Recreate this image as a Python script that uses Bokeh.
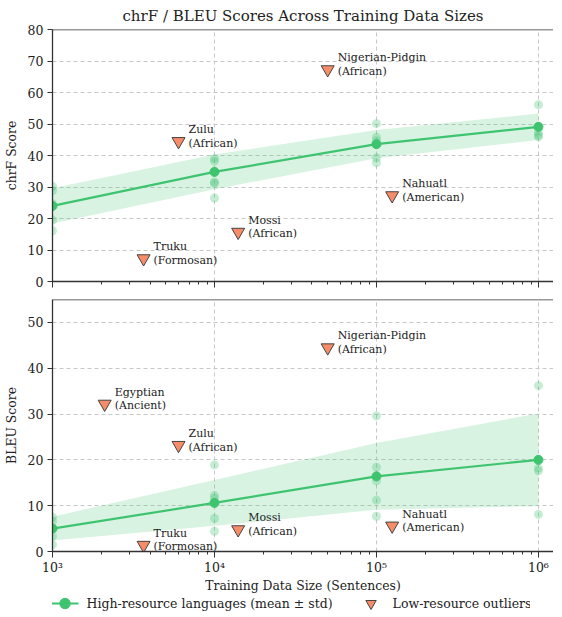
import numpy as np
from bokeh.plotting import figure
from bokeh.models import (ColumnDataSource, LogTicker, SingleIntervalTicker, CustomJSTickFormatter,
                          Span, Legend, LegendItem, Range1d)
from bokeh.layouts import column
from bokeh.embed import file_html
from bokeh.resources import INLINE
from bokeh.core.properties import value

# ---------------- data ----------------
sizes = [1e3, 1e4, 1e5, 1e6]

chrf_mean = [24.0, 34.8, 43.6, 49.1]
chrf_std = [5.6, 5.5, 4.5, 4.2]
chrf_pts_x = [1e3] * 5 + [1e4] * 5 + [1e5] * 5 + [1e6] * 4
chrf_pts_y = [30.2, 28.8, 24.7, 19.5, 16.1,
              39.0, 38.2, 31.6, 31.2, 26.5,
              50.1, 45.8, 44.7, 39.3, 37.7,
              56.1, 47.3, 46.5, 45.9]

bleu_mean = [5.0, 10.6, 16.4, 20.0]
bleu_std = [2.6, 5.0, 7.3, 10.1]
bleu_pts_x = [1e3] * 5 + [1e4] * 5 + [1e5] * 5 + [1e6] * 4
bleu_pts_y = [7.5, 6.6, 5.0, 3.3, 1.5,
              18.9, 12.2, 11.6, 7.2, 4.4,
              29.6, 18.4, 15.4, 11.2, 7.7,
              36.2, 18.2, 17.6, 8.1]

chrf_out_names = ["Truku\n(Formosan)", "Zulu\n(African)", "Mossi\n(African)",
                  "Nigerian-Pidgin\n(African)", "Nahuatl\n(American)"]
chrf_out_x = [3650, 6000, 14000, 50000, 125000]
chrf_out_y = [7.3, 44.5, 15.7, 67.3, 27.3]

bleu_out_names = ["Egyptian\n(Ancient)", "Zulu\n(African)", "Truku\n(Formosan)", "Mossi\n(African)",
                  "Nigerian-Pidgin\n(African)", "Nahuatl\n(American)"]
bleu_out_x = [2100, 6000, 3650, 14000, 50000, 125000]
bleu_out_y = [32.2, 23.2, 1.4, 4.8, 44.5, 5.6]

x_major_ticks = [1e3, 1e4, 1e5, 1e6]

# ---------------- style ----------------
FONT = "DejaVu Serif"
GREEN = "#3EC46F"
CORAL = "#F68D68"
EDGE = "#444444"
AXIS = "#333333"
XMAX = 10 ** 6.093

sup_fmt = CustomJSTickFormatter(code="""
const e = Math.round(Math.log10(tick));
const sup = {'0':'\u2070','1':'\u00b9','2':'\u00b2','3':'\u00b3','4':'\u2074','5':'\u2075','6':'\u2076','7':'\u2077','8':'\u2078','9':'\u2079'};
return '10' + String(e).split('').map(c => sup[c]).join('');
""")
blank_fmt = CustomJSTickFormatter(code="return '';")


def make_fig(ymax, ylabel, mean, std, px, py, ox, oy, onames, show_x, title=None,
             bt=10, bb=10):
    p = figure(x_axis_type="log", x_range=Range1d(1e3, XMAX), y_range=Range1d(0, ymax),
               frame_width=501, frame_height=252, output_backend="svg", toolbar_location=None,
               min_border_left=45, min_border_right=0, min_border_top=bt,
               min_border_bottom=bb, title=title)
    p.outline_line_color = None
    p.background_fill_color = "white"
    p.border_fill_color = "white"

    # grid
    p.xgrid.ticker = x_major_ticks
    for g in (p.xgrid, p.ygrid):
        g.grid_line_color = "#c8c8c8"
        g.grid_line_dash = "4 3"
        g.grid_line_width = 1
    p.ygrid.ticker = SingleIntervalTicker(interval=10)

    # axes
    p.xaxis.ticker = LogTicker(num_minor_ticks=10)
    p.xaxis.formatter = sup_fmt if show_x else blank_fmt
    p.yaxis.ticker = SingleIntervalTicker(interval=10, num_minor_ticks=0)
    for ax in (p.xaxis[0], p.yaxis[0]):
        ax.axis_line_color = AXIS
        ax.axis_line_width = 1.3
        ax.major_tick_line_color = AXIS
        ax.minor_tick_line_color = AXIS
        ax.major_tick_in = 0
        ax.minor_tick_in = 0
        ax.major_tick_out = 5
        ax.minor_tick_out = 3
        ax.major_label_text_font = FONT
        ax.major_label_text_font_size = "12.5px"
        ax.major_label_text_color = "#222222"
        ax.axis_label_text_font = FONT
        ax.axis_label_text_font_size = "12.4px"
        ax.axis_label_text_font_style = "normal"
        ax.axis_label_text_color = "#222222"
    p.yaxis.minor_tick_line_color = None
    p.yaxis.axis_label = ylabel
    p.yaxis.major_label_standoff = 4
    p.yaxis.axis_label_standoff = 6
    p.xaxis.major_tick_out = 6
    p.xaxis.major_label_standoff = 2
    if show_x:
        p.xaxis.axis_label = "Training Data Size (Sentences)"
        p.xaxis.axis_label_standoff = 0
    else:
        p.xaxis.major_label_text_font_size = "0px"

    # top spine
    p.add_layout(Span(location=ymax, dimension="width", line_color=AXIS, line_width=1.3))

    band = ColumnDataSource(dict(x=sizes, lo=[m - s for m, s in zip(mean, std)],
                                 hi=[m + s for m, s in zip(mean, std)], m=mean))
    p.varea(x="x", y1="lo", y2="hi", source=band, fill_color=GREEN, fill_alpha=0.2)
    p.scatter(px, py, size=9, fill_color=GREEN, fill_alpha=0.3, line_color=None)
    lr = p.line("x", "m", source=band, line_color=GREEN, line_width=2.2)
    cr = p.scatter("x", "m", source=band, size=9, fill_color=GREEN, line_color=GREEN)

    osrc = ColumnDataSource(dict(x=ox, y=oy, t=onames))
    tr = p.scatter("x", "y", source=osrc, marker="inverted_triangle", size=13,
                   fill_color=CORAL, line_color=EDGE, line_width=1)
    p.text("x", "y", text="t", source=osrc, x_offset=10, y_offset=-5,
           text_font=value(FONT), text_font_size="11px", text_color="#222222",
           text_baseline="middle", text_align="left", text_line_height=1.05)
    return p, lr, cr, tr


p1, _, _, _ = make_fig(80, "chrF Score", chrf_mean, chrf_std, chrf_pts_x, chrf_pts_y,
                       chrf_out_x, chrf_out_y, chrf_out_names, False,
                       title="chrF / BLEU Scores Across Training Data Sizes", bt=0, bb=8)
p1.title.align = "center"
p1.title.text_font = FONT
p1.title.text_font_size = "15px"
p1.title.text_font_style = "normal"
p1.title.text_color = "#222222"
p1.title.standoff = 9

p2, lr, cr, tr = make_fig(55, "BLEU Score", bleu_mean, bleu_std, bleu_pts_x, bleu_pts_y,
                          bleu_out_x, bleu_out_y, bleu_out_names, True, bt=10, bb=0)

# legend strip (its sample renderers sit outside the visible range)
p3 = figure(x_range=Range1d(0, 1), y_range=Range1d(0, 1), frame_width=478, frame_height=16,
            min_border_left=42, min_border_right=26, min_border_top=0, min_border_bottom=0,
            x_axis_location=None, y_axis_location=None, output_backend="svg",
            toolbar_location=None)
p3.outline_line_color = None
p3.xgrid.visible = False
p3.ygrid.visible = False
dl = p3.line([-5, -4], [-5, -5], line_color=GREEN, line_width=2.2)
dc = p3.scatter([-5], [-5], size=9, fill_color=GREEN, line_color=GREEN)
dt = p3.scatter([-5], [-5], marker="inverted_triangle", size=13, fill_color=CORAL,
                line_color=EDGE, line_width=1)

legend = Legend(items=[LegendItem(label="High-resource languages (mean \u00b1 std)", renderers=[dl, dc]),
                       LegendItem(label="Low-resource outliers", renderers=[dt])],
                orientation="horizontal", location="center")
legend.label_text_font = FONT
legend.label_text_font_size = "12.5px"
legend.label_text_color = "#222222"
legend.label_text_baseline = "middle"
legend.border_line_color = None
legend.background_fill_alpha = 0
legend.padding = 0
legend.margin = 0
legend.spacing = 24
legend.glyph_width = 28
legend.glyph_height = 26
legend.label_height = 26
legend.label_standoff = 8
p3.add_layout(legend)

layout = column(p1, p2, p3, spacing=0)
open("out.html", "w").write(file_html(layout, INLINE))
